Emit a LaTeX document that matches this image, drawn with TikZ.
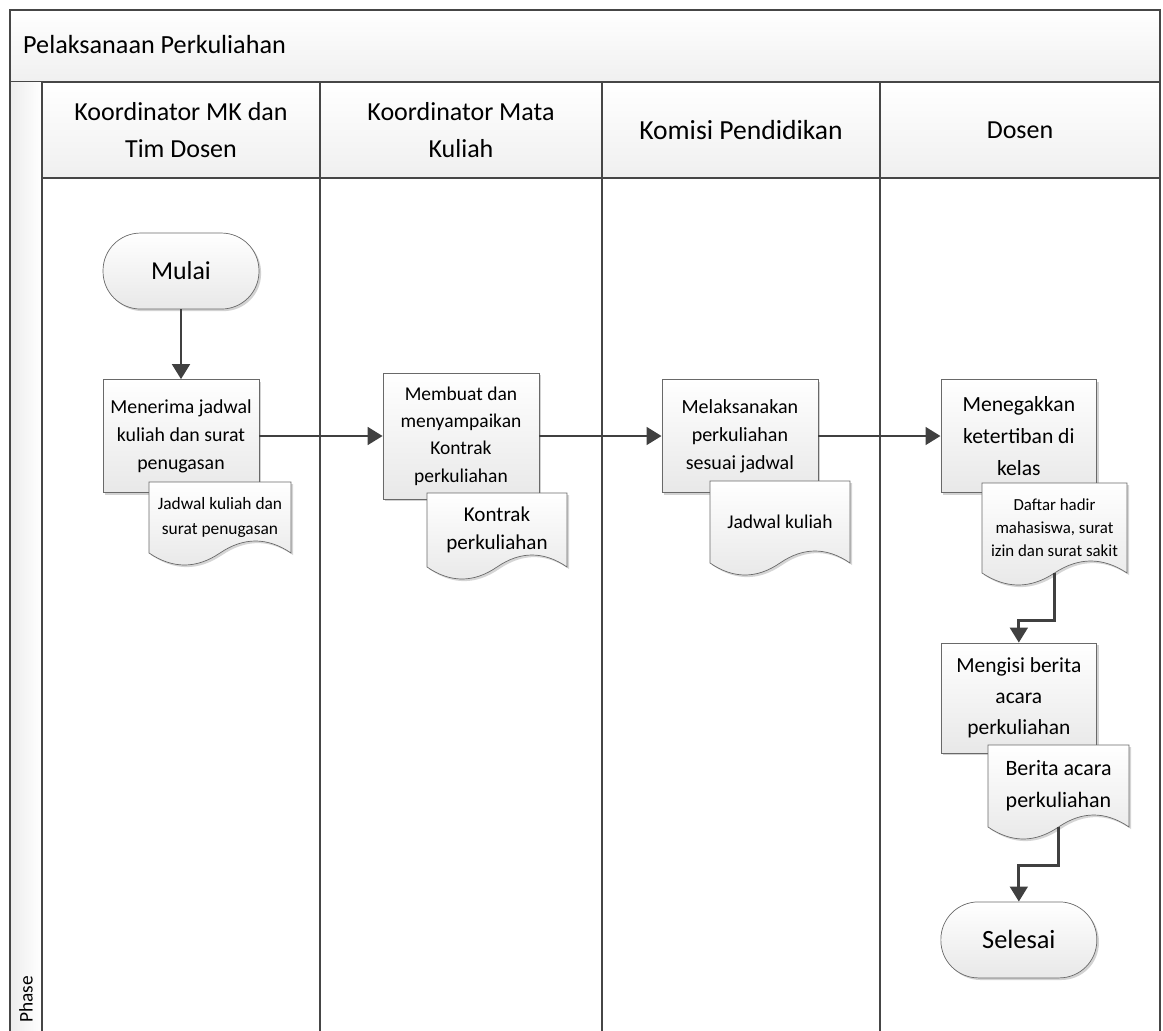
\documentclass[tikz,border=0pt]{standalone}
\usepackage{fontspec}
\setmainfont{Carlito}
\usepackage{xcolor}
\usetikzlibrary{positioning,shapes,arrows,arrows.meta,shadows,calc}
\definecolor{laneline}{RGB}{70,70,70}
\definecolor{boxline}{RGB}{105,105,105}
\definecolor{flowgray}{RGB}{64,64,64}

% document symbol: #1=name #2=x0 #3=y0 #4=x1 #5=wave line #6/#7=font size/skip #8=text
\newcommand{\docpath}[4]{(#1,#2) -- (#3,#2) -- (#3,#4)
  .. controls ({#3-(#3-#1)/6},{#4-16}) and ({#3-(#3-#1)/3},{#4-16}) .. ({(#1+#3)/2},#4)
  .. controls ({#1+(#3-#1)/3},{#4+16}) and ({#1+(#3-#1)/6},{#4+16}) .. (#1,#4) -- cycle}
\newcommand{\docnode}[8]{%
  \fill[gray!55, opacity=.6, xshift=1.2pt, yshift=-1.2pt] \docpath{#2}{#3}{#4}{#5};
  \path[draw=boxline, top color=white, bottom color=gray!18] \docpath{#2}{#3}{#4}{#5};
  \node[align=center, inner sep=1pt, font=\fontsize{#6}{#7}\selectfont,
        minimum width={(#4-#2)*0.02cm}, minimum height={(#5-#3)*0.02cm}]
        (#1) at ({(#2+#4)/2},{(#3+#5)/2}) {#8};}

\begin{document}
\begin{tikzpicture}[x=0.02cm, y=-0.02cm]
    \tikzstyle{process} = [rectangle, draw=boxline, top color=white, bottom color=gray!18, align=center, minimum width=3.12cm, minimum height=2.26cm, inner sep=2pt, drop shadow={shadow xshift=1.2pt, shadow yshift=-1.2pt, fill=gray!70, opacity=.5}]
    \tikzstyle{terminal} = [rectangle, rounded corners=0.75cm, draw=boxline, top color=white, bottom color=gray!18, minimum width=3.12cm, minimum height=1.52cm, drop shadow={shadow xshift=1.2pt, shadow yshift=-1.2pt, fill=gray!70, opacity=.5}]
    \tikzstyle{header} = [rectangle, draw=laneline, line width=1.4pt, top color=white, bottom color=gray!12, align=center, minimum height=1.92cm, font=\fontsize{14.8}{21.5}\selectfont]
    \tikzstyle{lane} = [draw=laneline, line width=1.4pt]
    \tikzstyle{flow} = [draw=flowgray, line width=1.6pt, -{Triangle[length=8.5pt, width=10pt]}]

    \useasboundingbox (0,0) rectangle (1163,1031);

    % pool, title and phase column
    \draw[lane, top color=white, bottom color=gray!12] (10,10) rectangle (1160,82);
    \node[anchor=west, font=\fontsize{14.9}{18}\selectfont] (title) at (17,45) {Pelaksanaan Perkuliahan};
    \fill[left color=gray!14, right color=white] (10,82) rectangle (42,1031);
    \draw[lane] (10,82) -- (10,1031);
    \node[rotate=90, anchor=west, font=\fontsize{11}{13}\selectfont] (phase) at (26,1029) {Phase};

    % lanes
    \node[header, minimum width=5.56cm] (hkoord) at (181,130) {Koordinator MK dan\\Tim Dosen};
    \node[header, minimum width=5.64cm] (hmatkul) at (461,130) {Koordinator Mata\\Kuliah};
    \node[header, minimum width=5.56cm, font=\fontsize{15.7}{19}\selectfont] (hkomisi) at (741,130) {Komisi Pendidikan};
    \node[header, minimum width=5.6cm] (hdosen) at (1020,130) {Dosen};
    \foreach \x in {42,320,602,880,1160}
        \draw[lane] (\x,178) -- (\x,1031);

    % steps
    \node[process, font=\fontsize{11.3}{15.9}\selectfont] (terima) at (181,436) {Menerima jadwal\\kuliah dan surat\\penugasan};
    \node[process, right of=terima, node distance=5.6cm, minimum height=2.52cm, font=\fontsize{11.1}{15.6}\selectfont] (kontrak) {Membuat dan\\menyampaikan\\Kontrak\\perkuliahan};
    \node[process, right of=kontrak, node distance=5.58cm, font=\fontsize{11.4}{16}\selectfont] (laksana) {Melaksanakan\\perkuliahan\\sesuai jadwal};
    \node[process, right of=laksana, node distance=5.58cm, font=\fontsize{12.3}{18}\selectfont] (tegak) {Menegakkan\\ketertiban di\\kelas};
    \node[process, below of=tegak, node distance=5.24cm, minimum height=2.2cm, font=\fontsize{12.2}{17.6}\selectfont] (isi) {Mengisi berita\\acara\\perkuliahan};
    \node[terminal, above of=terima, node distance=3.3cm, font=\fontsize{14.7}{18}\selectfont] (mulai) {Mulai};
    \node[terminal, below of=isi, node distance=4.84cm, font=\fontsize{15}{18}\selectfont] (selesai) {Selesai};

    % documents
    \docnode{jadwaltugas}{149}{482}{291}{553}{9.9}{14.2}{Jadwal kuliah dan\\surat penugasan}
    \docnode{dokkontrak}{427}{493}{567}{567}{12}{16}{Kontrak\\perkuliahan}
    \docnode{jadwal}{710}{481}{850}{563}{11.1}{14}{Jadwal kuliah}
    \docnode{dafhadir}{982}{483}{1127}{573}{9.6}{13}{Daftar hadir\\mahasiswa, surat\\izin dan surat sakit}
    \docnode{berita}{988}{745}{1129}{827}{12.5}{18}{Berita acara\\perkuliahan}

    \draw[flow] (mulai) -- (terima);
    \draw[flow] (terima) -- (kontrak);
    \draw[flow] (kontrak) -- (laksana);
    \draw[flow] (laksana) -- (tegak);
    \draw[flow] (dafhadir.south) -- ++(0,47) -| (isi.north);
    \draw[flow] (berita.south) -- ++(0,38) -| (selesai.north);
\end{tikzpicture}
\end{document}
